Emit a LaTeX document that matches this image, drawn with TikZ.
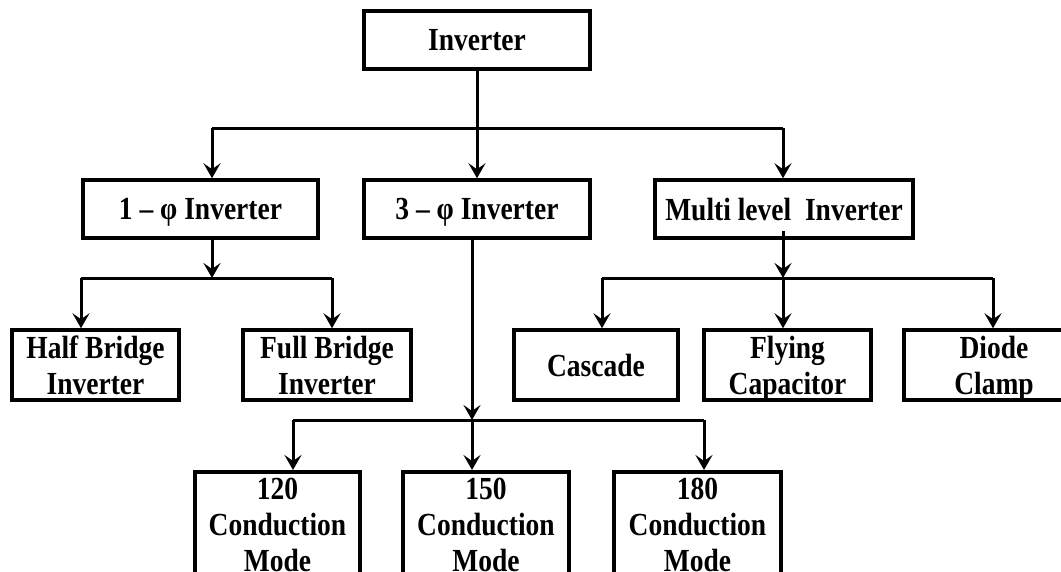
\documentclass[tikz,border=0pt]{standalone}
\usepackage{fontspec}
\setmainfont{Liberation Serif}
\usetikzlibrary{arrows.meta,calc}
\newcommand{\tallt}[1]{\scalebox{1}[1.17]{#1}}
\begin{document}
\begin{tikzpicture}[x=1pt,y=-1pt,
  box/.style={draw, line width=3.5pt, inner sep=0pt, align=center, text depth=0pt,
    font=\fontsize{27.5}{36}\selectfont\bfseries},
  modebox/.style={box, anchor=north, inner ysep=6pt, minimum width=#1},
  conn/.style={line width=3pt},
  arr/.style={conn, -{Stealth[length=15pt,width=17pt,inset=6pt]}}]
\useasboundingbox (0,0) rectangle (1061,571);
\clip (0,0) rectangle (1061,571);
\fill[white] (0,0) rectangle (1061,571);
% level 1
\node[box, minimum width=226pt, minimum height=58pt] (inv) at (477,40) {\tallt{Inverter}};
% level 2
\node[box, minimum width=235pt, minimum height=58pt] (p1) at (200.5,209) {\tallt{1 – φ Inverter}};
\node[box, minimum width=226pt, minimum height=58pt] (p3) at (477,209) {\tallt{3 – φ Inverter}};
\node[box, minimum width=258pt, minimum height=58pt] (pm) at (784,209) {\tallt{Multi level\ \ Inverter}};
% level 3
\node[box, minimum width=167pt, minimum height=70pt] (hb) at (95.5,365) {\tallt{Half Bridge}\\\tallt{Inverter}};
\node[box, minimum width=168pt, minimum height=70pt] (fb) at (327,365) {\tallt{Full Bridge}\\\tallt{Inverter}};
\node[box, minimum width=164pt, minimum height=70pt] (cas) at (596,365) {\tallt{Cascade}};
\node[box, minimum width=167pt, minimum height=70pt] (fly) at (787.5,365) {\tallt{Flying}\\\tallt{Capacitor}};
\node[box, minimum width=180pt, minimum height=70pt] (dio) at (994,365) {\tallt{Diode}\\\tallt{Clamp}};
% level 4
\node[modebox=165pt] (c120) at (277.5,470) {\tallt{120}\\\tallt{Conduction}\\\tallt{Mode}};
\node[modebox=166pt] (c150) at (486,470) {\tallt{150}\\\tallt{Conduction}\\\tallt{Mode}};
\node[modebox=167pt] (c180) at (697.5,470) {\tallt{180}\\\tallt{Conduction}\\\tallt{Mode}};
% connectors from Inverter
\coordinate (b0) at (477,128);
\coordinate (b0L) at (212,128);
\coordinate (b0R) at (783,128);
\draw[conn] (inv.south) -- (b0);
\draw[conn] (b0L) -- (b0R);
\draw[arr] (b0L) -- (b0L |- p1.north);
\draw[arr] (b0) -- (p3.north);
\draw[arr] (b0R) -- (b0R |- pm.north);
% 1-phi
\coordinate (s1) at (212,278);
\coordinate (s1L) at (81,278);
\coordinate (s1R) at (332,278);
\draw[arr] (s1 |- p1.south) -- (s1);
\draw[conn] (s1L) -- (s1R);
\draw[arr] (s1L) -- (s1L |- hb.north);
\draw[arr] (s1R) -- (s1R |- fb.north);
% multilevel
\coordinate (sm) at (783,278);
\coordinate (smL) at (602,278);
\coordinate (smR) at (993,278);
\draw[arr] ($(sm |- pm.south)+(0,-9)$) -- (sm);
\draw[conn] (smL) -- (smR);
\draw[arr] (smL) -- (smL |- cas.north);
\draw[arr] (sm) -- (sm |- fly.north);
\draw[arr] (smR) -- (smR |- dio.north);
% 3-phi
\coordinate (s3) at (472,420);
\coordinate (s3L) at (293,420);
\coordinate (s3R) at (704,420);
\draw[arr] (s3 |- p3.south) -- (s3);
\draw[conn] (s3L) -- (s3R);
\draw[arr] (s3L) -- (s3L |- c120.north);
\draw[arr] (s3) -- (s3 |- c150.north);
\draw[arr] (s3R) -- (s3R |- c180.north);
\end{tikzpicture}
\end{document}
